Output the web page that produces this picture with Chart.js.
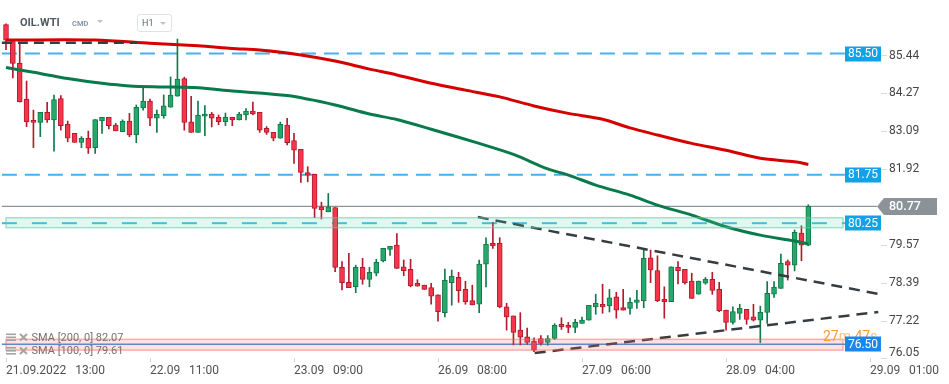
<!DOCTYPE html>
<html><head><meta charset="utf-8">
<script src="https://cdn.jsdelivr.net/npm/chart.js@4.4.1/dist/chart.umd.min.js"></script>
<style>
html,body{margin:0;padding:0;background:#fff;}
#wrap{position:relative;width:949px;height:384px;overflow:hidden;font-family:Roboto,"Noto Sans",sans-serif;}
#c{position:absolute;left:0;top:0;}
.sym{position:absolute;left:20px;top:17px;font-weight:700;font-size:11px;line-height:12px;color:#4f5963;}
.cmd{position:absolute;left:72px;top:20px;font-weight:700;font-size:7.5px;line-height:8px;color:#8a96a1;}
.tri{position:absolute;width:0;height:0;border-left:3px solid transparent;border-right:3px solid transparent;border-top:3.5px solid #bcc3ca;}
.tf{position:absolute;left:137px;top:14px;width:33px;height:16px;border:1px solid #dfe3e7;border-radius:3px;}
.tf span{position:absolute;left:4px;top:3px;font-size:9px;line-height:10px;color:#5d6872;}
</style></head><body>
<div id="wrap">
<canvas id="c" width="949" height="384"></canvas>
<div class="sym">OIL.WTI</div>
<div class="cmd">CMD</div>
<div class="tri" style="left:97px;top:20px;"></div>
<div class="tf"><span>H1</span><div class="tri" style="left:22px;top:7px;"></div></div>
</div>
<script>
// ---- data ----
const xTickIdx = [0, 21, 42, 63, 84, 105, 126];
const xTickLabels = ['21.09.2022   13:00', '22.09   11:00', '23.09   09:00', '26.09   08:00', '27.09   06:00', '28.09   04:00', '29.09   01:00'];
const yTickValues = [85.44, 84.27, 83.09, 81.92, 79.57, 78.39, 77.22, 76.05];

const candleOpen = [86.40,85.87,85.20,84.09,83.43,83.37,83.68,83.45,84.11,83.31,83.03,82.75,82.88,82.59,83.42,83.53,83.29,83.08,83.41,82.98,
83.82,84.03,83.50,83.58,83.84,84.18,84.73,83.39,83.06,83.56,83.63,83.53,83.39,83.53,83.45,83.60,83.72,83.68,83.19,83.06,
82.88,83.29,82.81,82.54,81.82,81.76,80.76,80.60,80.73,78.88,78.42,78.28,78.88,78.51,78.70,79.08,79.44,79.57,78.90,78.82,
78.39,78.33,78.26,78.03,77.48,78.41,78.57,78.20,77.85,77.74,78.98,79.63,79.63,77.66,77.38,76.94,76.73,76.60,76.68,76.56,
76.68,77.12,77.09,77.02,77.15,77.25,77.66,77.74,77.69,77.97,77.64,77.61,77.80,77.84,79.18,78.78,77.89,77.82,78.88,78.82,
78.46,78.05,78.39,78.51,78.20,77.56,77.18,77.46,77.58,77.35,77.25,77.49,78.05,78.23,79.06,78.95,79.94,79.57];
const candleHigh = [86.42,85.92,85.84,84.65,83.75,83.68,83.99,84.22,84.20,83.41,83.03,82.93,83.10,83.46,83.53,83.53,83.34,83.45,83.65,83.91,
84.47,84.09,83.75,84.22,84.78,85.95,84.77,84.18,84.03,83.89,83.68,83.60,83.66,83.53,83.68,83.80,84.00,83.68,83.24,83.06,
83.38,83.50,83.03,82.54,82.00,81.76,80.90,81.17,80.73,79.06,79.32,78.95,79.16,78.88,79.13,79.47,79.53,79.93,79.11,79.13,
78.50,78.33,78.39,78.03,78.83,78.80,78.73,78.45,78.33,79.11,79.80,80.28,79.80,77.77,77.38,77.48,77.00,76.70,76.77,76.77,
77.14,77.32,77.18,77.27,77.34,77.71,78.05,78.36,78.20,78.11,78.20,77.94,78.17,79.44,79.42,79.24,78.28,78.90,79.06,78.82,
78.70,78.46,78.57,78.73,78.42,77.56,77.66,77.74,77.58,77.74,77.68,78.44,78.44,79.29,79.11,80.04,80.17,80.82];
const candleLow = [85.62,84.75,84.00,83.24,82.59,82.93,83.37,82.48,83.13,82.77,82.75,82.59,82.41,82.41,83.03,83.17,83.11,83.08,82.93,82.74,
83.75,83.27,83.06,83.50,83.84,84.18,83.13,83.06,83.06,82.96,83.23,83.30,83.27,83.27,83.45,83.45,83.60,83.06,83.00,82.80,
82.88,82.67,82.10,81.51,81.53,80.42,80.38,80.60,78.75,78.18,78.25,78.10,78.36,78.28,78.62,79.05,79.25,78.85,78.62,78.28,
78.30,78.20,77.74,77.22,77.35,77.71,77.80,77.74,77.72,77.48,78.28,79.47,77.63,76.94,76.48,76.48,76.50,76.27,76.47,76.47,
76.65,76.96,76.86,76.86,77.15,77.25,77.43,77.46,77.50,77.31,77.56,77.43,77.61,77.63,78.41,77.82,77.31,77.82,78.37,78.36,
77.92,78.05,78.36,78.05,77.51,76.94,77.12,77.27,77.12,77.22,76.55,77.15,77.95,78.23,78.49,78.77,79.09,79.55];
const candleClose = [85.92,85.20,84.01,83.39,83.37,83.68,83.45,84.08,83.27,82.88,82.75,82.88,82.57,83.46,83.53,83.27,83.11,83.41,82.98,83.84,
84.03,83.50,83.62,83.88,84.22,84.71,83.37,83.06,83.60,83.63,83.50,83.39,83.53,83.45,83.63,83.72,83.63,83.13,83.06,82.88,
83.31,82.74,82.51,81.82,81.74,80.71,80.66,80.76,78.88,78.41,78.25,78.88,78.51,78.73,79.04,79.47,79.53,78.85,78.78,78.31,
78.30,78.20,77.99,77.51,78.48,78.61,78.16,77.82,77.72,78.98,79.60,79.55,77.66,77.35,76.87,76.72,76.56,76.32,76.53,76.68,
77.09,77.04,77.02,77.18,77.25,77.71,77.77,77.66,77.94,77.56,77.56,77.80,77.88,79.16,78.80,77.85,77.82,78.90,78.78,78.41,
77.92,78.46,78.51,78.17,77.54,77.18,77.51,77.61,77.27,77.25,77.49,78.08,78.27,79.01,78.95,79.97,79.57,80.77];

// SMA readings (candle index, value)
const sma200Idx = [0, 13, 21, 28, 33, 37, 43, 48, 53, 57, 62, 67, 72, 77, 82, 87, 91, 95, 100, 105, 110, 115, 117];
const sma200Val = [85.92, 85.92, 85.82, 85.74, 85.66, 85.61, 85.46, 85.27, 85.02, 84.84, 84.58, 84.37, 84.16, 83.88, 83.65, 83.47, 83.20, 82.98, 82.72, 82.51, 82.26, 82.15, 82.07];
const sma100Idx = [0, 4, 9, 14, 18, 23, 28, 33, 41, 48, 53, 57, 62, 69, 74, 79, 82, 86, 91, 95, 100, 105, 110, 115, 117];
const sma100Val = [85.07, 84.92, 84.73, 84.58, 84.50, 84.47, 84.44, 84.34, 84.20, 83.91, 83.63, 83.46, 83.16, 82.72, 82.38, 81.93, 81.74, 81.43, 81.12, 80.81, 80.50, 80.14, 79.88, 79.70, 79.61];

// horizontal levels
const levelValues = [85.50, 81.75, 80.25, 76.50];
const levelSpan = [-0.6, 122.36];
// zones (low, high)
const zoneLow = [80.11, 76.32];
const zoneHigh = [80.42, 76.655];
const zoneSpan = [0, 122.07];
// drawn trend lines
const trendUpperIdx = [68.8, 127.2], trendUpperVal = [80.44, 78.06];
const trendLowerIdx = [77.1, 127.2], trendLowerVal = [76.23, 77.50];
const topLineIdx = [-0.6, 19.1], topLineVal = [85.84, 85.84];
const priceLineSpan = [-0.6, 127.0];
const countdownText = ['27', 'm ', '47', 's'];

// ---- styles ----
const UP_FILL = '#25a86b', UP_EDGE = '#12794a', DN_FILL = '#f3364b', DN_EDGE = '#b31b2d';
const isUp = i => candleClose[i] >= candleOpen[i];
const yMax = 87.16, yMin = 76.076, xMin = -0.875, xMax = 127.6;
const lastClose = candleClose[candleClose.length - 1];

const pts = (xs, ys) => xs.map((x, i) => ({x, y: ys[i]}));
const flat = (span, v) => [{x: span[0], y: v}, {x: span[1], y: v}];
const levelStyle = [
  {c: '#45b2ec', w: 2, d: [15, 8]},
  {c: '#45b2ec', w: 2, d: [15, 8]},
  {c: '#45b2ec', w: 2, d: [15, 15]},
  {c: '#3f8fe2', w: 1.5, d: []}
];
const lineDs = (data, color, width, dash, order, extra) => Object.assign({
  type: 'line', data, borderColor: color, borderWidth: width, borderDash: dash,
  pointRadius: 0, pointHoverRadius: 0, fill: false, tension: 0, order
}, extra || {});

const datasets = [];
levelValues.forEach((v, k) => datasets.push(lineDs(flat(levelSpan, v), levelStyle[k].c, levelStyle[k].w, levelStyle[k].d, 20)));
datasets.push(lineDs(flat(priceLineSpan, lastClose), '#8e9499', 1.2, [], 19));
datasets.push({
  type: 'bar', data: candleHigh.map((h, i) => ({x: i, y: [candleLow[i], h]})),
  backgroundColor: c => isUp(c.dataIndex) ? UP_EDGE : DN_EDGE,
  borderWidth: 0, barThickness: 1, grouped: false, order: 12
});
datasets.push({
  type: 'bar', data: candleOpen.map((o, i) => ({x: i, y: [o, candleClose[i]]})),
  backgroundColor: c => isUp(c.dataIndex) ? UP_FILL : DN_FILL,
  borderColor: c => isUp(c.dataIndex) ? UP_EDGE : DN_EDGE,
  borderWidth: 1, borderSkipped: false, barThickness: 5, minBarLength: 2, grouped: false, order: 11
});
datasets.push(lineDs(pts(sma200Idx, sma200Val), '#d50000', 3, [], 6, {tension: 0.3}));
datasets.push(lineDs(pts(sma100Idx, sma100Val), '#087a4b', 3, [], 5, {tension: 0.3}));
datasets.push(lineDs(pts(topLineIdx, topLineVal), '#353d43', 2.5, [10, 6], 3));
datasets.push(lineDs(pts(trendUpperIdx, trendUpperVal), '#353d43', 2.5, [11, 7], 2));
datasets.push(lineDs(pts(trendLowerIdx, trendLowerVal), '#353d43', 2.5, [11, 7], 2));

const zoneStyle = [
  {fill: 'rgba(110,215,178,0.20)', edge: 'rgba(90,205,165,0.55)'},
  {fill: 'rgba(240,110,110,0.20)', edge: 'rgba(235,95,95,0.45)'}
];
const boxColors = ['#12a2e8', '#12a2e8', '#12a2e8', '#1b87ee'];

const overlay = {
  id: 'overlay',
  afterDatasetsDraw(chart) {
    const {ctx, scales: {x, y}} = chart;
    ctx.save();
    zoneLow.forEach((lo, k) => {
      const x0 = x.getPixelForValue(zoneSpan[0]), x1 = x.getPixelForValue(zoneSpan[1]);
      const y0 = y.getPixelForValue(zoneHigh[k]), y1 = y.getPixelForValue(lo);
      ctx.fillStyle = zoneStyle[k].fill;
      ctx.fillRect(x0, y0, x1 - x0, y1 - y0);
      ctx.strokeStyle = zoneStyle[k].edge; ctx.lineWidth = 1.5;
      ctx.strokeRect(x0, y0, x1 - x0, y1 - y0);
    });
    ctx.restore();
  },
  afterDraw(chart) {
    const {ctx, chartArea: a, scales: {y}} = chart;
    ctx.save();
    // countdown
    ctx.font = '14px Roboto';
    ctx.textBaseline = 'middle'; ctx.textAlign = 'left';
    let cx = a.right - 58;
    const cy = y.getPixelForValue(levelValues[3]) - 6.5;
    countdownText.forEach((t, k) => {
      ctx.fillStyle = k % 2 === 0 ? '#ff9a2c' : '#f5c08c';
      ctx.fillText(t, cx, cy);
      cx += ctx.measureText(t).width;
    });
    // level boxes
    ctx.font = '12px Roboto';
    ctx.textAlign = 'center';
    levelValues.forEach((v, k) => {
      const py = y.getPixelForValue(v);
      ctx.fillStyle = boxColors[k];
      ctx.fillRect(a.right - 36, Math.round(py) - 7.5, 36, 15);
      ctx.fillStyle = '#ffffff';
      ctx.fillText(v.toFixed(2), a.right - 18, py + 0.5);
    });
    // current price arrow
    const py = y.getPixelForValue(lastClose);
    ctx.fillStyle = '#8b9399';
    ctx.beginPath();
    ctx.moveTo(a.right - 4, py);
    ctx.lineTo(a.right + 3, py - 8.5);
    ctx.lineTo(a.right + 56, py - 8.5);
    ctx.lineTo(a.right + 56, py + 8.5);
    ctx.lineTo(a.right + 3, py + 8.5);
    ctx.closePath(); ctx.fill();
    ctx.fillStyle = '#ffffff';
    ctx.font = '500 12.5px Roboto';
    ctx.textAlign = 'left';
    ctx.fillText(lastClose.toFixed(2), a.right + 8, py + 0.5);
    // SMA legend
    const rows = [['SMA [200, 0] ' + sma200Val[sma200Val.length - 1].toFixed(2), a.bottom - 20.5],
                  ['SMA [100, 0] ' + sma100Val[sma100Val.length - 1].toFixed(2), a.bottom - 7]];
    rows.forEach(([t, ry]) => {
      ctx.fillStyle = '#a4a4a4';
      ctx.fillRect(6, ry - 4, 10, 1.6);
      ctx.fillRect(6, ry - 1, 10, 1.6);
      ctx.fillRect(6, ry + 2, 10, 1.6);
      ctx.strokeStyle = '#a4a4a4'; ctx.lineWidth = 2;
      ctx.beginPath();
      ctx.moveTo(20, ry - 3.5); ctx.lineTo(27, ry + 3);
      ctx.moveTo(27, ry - 3.5); ctx.lineTo(20, ry + 3);
      ctx.stroke();
      ctx.fillStyle = '#737373';
      ctx.font = '11px Roboto';
      ctx.textAlign = 'left';
      ctx.fillText(t, 31.5, ry + 0.5);
    });
    ctx.restore();
  }
};

new Chart(document.getElementById('c'), {
  type: 'bar',
  data: {datasets},
  options: {
    responsive: false, animation: false, devicePixelRatio: 1,
    layout: {padding: 0},
    plugins: {legend: {display: false}, tooltip: {enabled: false}},
    events: [],
    scales: {
      x: {
        type: 'linear', min: xMin, max: xMax, offset: false,
        afterBuildTicks: s => { s.ticks = xTickIdx.map(v => ({value: v})); },
        afterFit: s => { s.height = 26; s.paddingLeft = 0; s.paddingRight = 0; },
        grid: {offset: false, drawOnChartArea: false, drawTicks: true, tickLength: 4, color: '#d4d4d4'},
        border: {display: false},
        ticks: {autoSkip: false, maxRotation: 0, minRotation: 0, align: 'start', padding: 2,
          color: '#505050', font: {family: 'Roboto', size: 12},
          callback: (v, i) => xTickLabels[i]}
      },
      y: {
        position: 'right', min: yMin, max: yMax,
        afterBuildTicks: s => { s.ticks = yTickValues.map(v => ({value: v})); },
        afterFit: s => { s.width = 68; s.paddingTop = 0; s.paddingBottom = 0; },
        grid: {drawOnChartArea: false, drawTicks: true, tickLength: 6, color: '#dcdcdc'},
        border: {display: false},
        ticks: {autoSkip: false, padding: 2, color: '#454545', font: {family: 'Roboto', size: 12, lineHeight: 1},
          callback: v => v < yMin ? [v.toFixed(2), ''] : v.toFixed(2)}
      }
    }
  },
  plugins: [overlay]
});
</script>
</body></html>
